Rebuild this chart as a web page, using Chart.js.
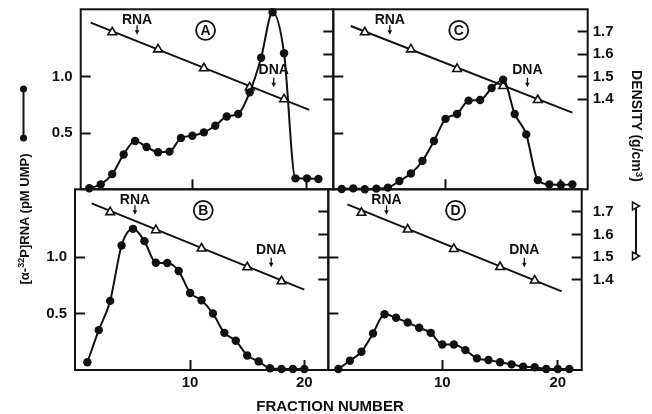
<!DOCTYPE html>
<html>
<head>
<meta charset="utf-8">
<script src="https://cdn.jsdelivr.net/npm/chart.js@4.4.1/dist/chart.umd.min.js"></script>
<style>
  body { margin: 0; background: #fff; }
  #wrap { position: relative; width: 652px; height: 414px; overflow: hidden;
          font-family: "Liberation Sans", Arial, sans-serif; color: #111; }
  canvas { position: absolute; left: 0; top: 0; }
  .lbl { position: absolute; white-space: nowrap; font-weight: bold; line-height: 1; }
  .lbl sup { font-size: 70%; vertical-align: 0.45em; line-height: 0; }
  #ytitle { left: 24px; top: 219px; font-size: 13px; transform: translate(-50%, -50%) rotate(-90deg); }
  #y2title { left: 637px; top: 126px; font-size: 14px; transform: translate(-50%, -50%) rotate(90deg); }
  #xtitle { left: 330px; top: 405px; font-size: 15px; transform: translate(-50%, -50%); }
  svg { position: absolute; left: 0; top: 0; }
</style>
</head>
<body>
<div id="wrap">
  <canvas id="panelA" width="652" height="414"></canvas>
  <canvas id="panelB" width="652" height="414"></canvas>
  <canvas id="panelC" width="652" height="414"></canvas>
  <canvas id="panelD" width="652" height="414"></canvas>
  <svg width="652" height="414">
    <line x1="23.5" y1="89" x2="23.5" y2="138" stroke="#111" stroke-width="2"/>
    <circle cx="23.5" cy="89" r="3.5" fill="#111"/>
    <circle cx="23.5" cy="138" r="3.5" fill="#111"/>
    <line x1="636" y1="206" x2="636" y2="256" stroke="#111" stroke-width="2"/>
    <polygon points="632.5,202 632.5,210 639.5,206" fill="#fff" stroke="#111" stroke-width="1.5"/>
    <polygon points="632.5,252 632.5,260 639.5,256" fill="#fff" stroke="#111" stroke-width="1.5"/>
  </svg>
  <div class="lbl" id="ytitle">[α-<sup>32</sup>P]RNA (pM UMP)</div>
  <div class="lbl" id="y2title">DENSITY (g/cm<sup>3</sup>)</div>
  <div class="lbl" id="xtitle">FRACTION NUMBER</div>
</div>
<script>
// fraction numbers
const fractions21 = [1, 2, 3, 4, 5, 6, 7, 8, 9, 10, 11, 12, 13, 14, 15, 16, 17, 18, 19, 20, 21];
const fractions20 = [1, 2, 3, 4, 5, 6, 7, 8, 9, 10, 11, 12, 13, 14, 15, 16, 17, 18, 19, 20];

// [a-32P]RNA (pM UMP) per fraction
const rnaA = [0.01, 0.044, 0.135, 0.31, 0.43, 0.376, 0.33, 0.335, 0.456, 0.476, 0.506,
              0.565, 0.647, 0.67, 0.862, 1.17, 1.574, 1.21, 0.097, 0.097, 0.091];
const rnaB = [0.068, 0.353, 0.612, 1.103, 1.25, 1.141, 0.95, 0.947, 0.876, 0.682,
              0.618, 0.5, 0.329, 0.259, 0.129, 0.076, 0.015, 0.009, 0.009, 0.009];
const rnaC = [0.003, 0.008, 0.0, 0.006, 0.015, 0.074, 0.14, 0.253, 0.43, 0.626, 0.67,
              0.788, 0.794, 0.9, 0.974, 0.67, 0.488, 0.082, 0.044, 0.038, 0.044];
const rnaD = [0.009, 0.082, 0.162, 0.324, 0.494, 0.462, 0.42, 0.374, 0.329, 0.226, 0.226,
              0.176, 0.103, 0.088, 0.068, 0.05, 0.029, 0.024, 0.009, 0.009, 0.009];

// measured density (g/cm3)
const densityFractions = [3, 7, 11, 15, 18];
const densityA = [1.698, 1.622, 1.538, 1.453, 1.40];
const densityB = [1.699, 1.619, 1.538, 1.455, 1.393];
const densityC = [1.698, 1.622, 1.535, 1.459, 1.397];
const densityD = [1.696, 1.622, 1.536, 1.456, 1.396];

// fitted density gradient (start, end)
const fitFractionsA = [1.12, 20.2];
const fitDensityA = [1.741, 1.353];
const fitFractionsB = [1.38, 20.0];
const fitDensityB = [1.738, 1.356];
const fitFractionsC = [1.78, 21.0];
const fitDensityC = [1.726, 1.341];
const fitFractionsD = [1.78, 20.34];
const fitDensityD = [1.733, 1.348];

// tick labels
const xTickValues = [10, 20];
const rnaTickValues = [0.5, 1.0];
const densityTickValues = [1.4, 1.5, 1.6, 1.7];

const ink = '#111';
const fontFamily = '"Liberation Sans", Arial, sans-serif';
const tickFont = { family: fontFamily, size: 15, weight: 'bold' };
const axisSpace = 40;

const panelDecor = {
    id: 'panelDecor',
    beforeDatasetsDraw(chart) {
        const { ctx, chartArea: a } = chart;
        ctx.save();
        ctx.strokeStyle = ink;
        ctx.lineWidth = 2;
        ctx.strokeRect(a.left, a.top, a.right - a.left, a.bottom - a.top);
        ctx.restore();
    },
    afterDatasetsDraw(chart, args, o) {
        const { ctx, chartArea: a, scales: { x } } = chart;
        ctx.save();
        ctx.fillStyle = ink;
        ctx.strokeStyle = ink;
        ctx.textAlign = 'center';
        ctx.textBaseline = 'middle';
        o.markers.forEach(m => {
            const px = x.getPixelForValue(m.at);
            ctx.font = 'bold 14px ' + fontFamily;
            ctx.fillText(m.text, px, a.top + m.textDy);
            const y0 = a.top + m.arrowDy;
            ctx.lineWidth = 1.3;
            ctx.beginPath();
            ctx.moveTo(px, y0);
            ctx.lineTo(px, y0 + 6);
            ctx.stroke();
            ctx.beginPath();
            ctx.moveTo(px - 2.3, y0 + 5);
            ctx.lineTo(px + 2.3, y0 + 5);
            ctx.lineTo(px, y0 + 9.5);
            ctx.closePath();
            ctx.fill();
        });
        const cx = x.getPixelForValue(o.letterAt);
        const cy = a.top + 21;
        ctx.lineWidth = 1.8;
        ctx.beginPath();
        ctx.arc(cx, cy, 9.5, 0, Math.PI * 2);
        ctx.stroke();
        ctx.font = 'bold 14px ' + fontFamily;
        ctx.fillText(o.letter, cx, cy + 1);
        ctx.restore();
    }
};

function tickGrid() {
    return { display: true, drawOnChartArea: false, drawTicks: true, tickLength: -10,
             tickWidth: 2, tickColor: ink, color: ink };
}

// fixed axis box, no extra label padding, so the plot area sits exactly where asked
function fixBox(s) {
    if (s.isHorizontal()) s.height = axisSpace; else s.width = axisSpace;
    s.paddingTop = 0;
    s.paddingBottom = 0;
    s.paddingLeft = 0;
    s.paddingRight = 0;
}

function makePanel(id, p) {
    const rnaPoints = p.fractions.map((f, i) => ({ x: f, y: p.rna[i] }));
    const triPoints = densityFractions.map((f, i) => ({ x: f, y: p.density[i] }));
    const fitPoints = p.fitFractions.map((f, i) => ({ x: f, y: p.fitDensity[i] }));
    return new Chart(document.getElementById(id), {
        type: 'line',
        data: {
            datasets: [{
                data: rnaPoints,
                yAxisID: 'y',
                borderColor: ink,
                backgroundColor: ink,
                borderWidth: 2,
                pointRadius: 4.2,
                pointBorderWidth: 0,
                pointBackgroundColor: ink,
                cubicInterpolationMode: 'monotone',
                clip: false
            }, {
                data: triPoints,
                yAxisID: 'y1',
                showLine: false,
                pointStyle: 'triangle',
                pointRadius: 5,
                pointBackgroundColor: '#fff',
                pointBorderColor: ink,
                pointBorderWidth: 1.6,
                clip: false
            }, {
                data: fitPoints,
                yAxisID: 'y1',
                borderColor: ink,
                borderWidth: 2,
                pointRadius: 0,
                clip: false
            }]
        },
        options: {
            responsive: false,
            animation: false,
            events: [],
            layout: {
                padding: {
                    left: p.box[0] - axisSpace,
                    top: p.box[1],
                    right: 652 - p.box[2] - axisSpace,
                    bottom: 414 - p.box[3] - axisSpace
                }
            },
            scales: {
                x: {
                    type: 'linear', position: 'bottom', min: p.xRange[0], max: p.xRange[1],
                    afterFit: fixBox,
                    afterBuildTicks: s => { s.ticks = xTickValues.map(v => ({ value: v })); },
                    grid: tickGrid(),
                    border: { display: false },
                    ticks: { display: p.xLabels, padding: 14, font: tickFont, color: ink,
                             maxRotation: 0, autoSkip: false, callback: v => String(v) }
                },
                y: {
                    type: 'linear', position: 'left', min: 0, max: 1.6,
                    afterFit: fixBox,
                    afterBuildTicks: s => { s.ticks = rnaTickValues.map(v => ({ value: v })); },
                    grid: tickGrid(),
                    border: { display: false },
                    ticks: { display: p.leftLabels, padding: 18, font: tickFont, color: ink,
                             autoSkip: false, callback: v => v.toFixed(1) }
                },
                y1: {
                    type: 'linear', position: 'right', min: 1.0, max: 1.8,
                    afterFit: fixBox,
                    afterBuildTicks: s => { s.ticks = densityTickValues.map(v => ({ value: v })); },
                    grid: tickGrid(),
                    border: { display: false },
                    ticks: { display: p.rightLabels, padding: 10 + p.rightGap, font: tickFont, color: ink,
                             autoSkip: false, callback: v => v.toFixed(1) }
                }
            },
            plugins: {
                legend: { display: false },
                tooltip: { enabled: false },
                panelDecor: {
                    letter: p.letter,
                    letterAt: 11.15,
                    markers: [
                        { text: 'RNA', at: 5.17, textDy: 10.5, arrowDy: 16 },
                        { text: 'DNA', at: 17.1, textDy: 60.5, arrowDy: 68.5 }
                    ]
                }
            }
        },
        plugins: [panelDecor]
    });
}

makePanel('panelA', {
    letter: 'A', fractions: fractions21, rna: rnaA, density: densityA,
    fitFractions: fitFractionsA, fitDensity: fitDensityA,
    box: [80.7, 9.3, 333.3, 189.3], xRange: [0.25, 22.3],
    xLabels: false, leftLabels: true, rightLabels: false, rightGap: 0
});
makePanel('panelB', {
    letter: 'B', fractions: fractions20, rna: rnaB, density: densityB,
    fitFractions: fitFractionsB, fitDensity: fitDensityB,
    box: [75, 189.3, 328.3, 370], xRange: [-0.08, 22.1],
    xLabels: true, leftLabels: true, rightLabels: false, rightGap: 0
});
makePanel('panelC', {
    letter: 'C', fractions: fractions21, rna: rnaC, density: densityC,
    fitFractions: fitFractionsC, fitDensity: fitDensityC,
    box: [333.3, 9.3, 587.7, 189.3], xRange: [0.27, 22.33],
    xLabels: false, leftLabels: false, rightLabels: true, rightGap: 5
});
makePanel('panelD', {
    letter: 'D', fractions: fractions21, rna: rnaD, density: densityD,
    fitFractions: fitFractionsD, fitDensity: fitDensityD,
    box: [328.3, 189.3, 581.7, 370], xRange: [0.13, 22.07],
    xLabels: true, leftLabels: false, rightLabels: true, rightGap: 11
});
</script>
</body>
</html>
